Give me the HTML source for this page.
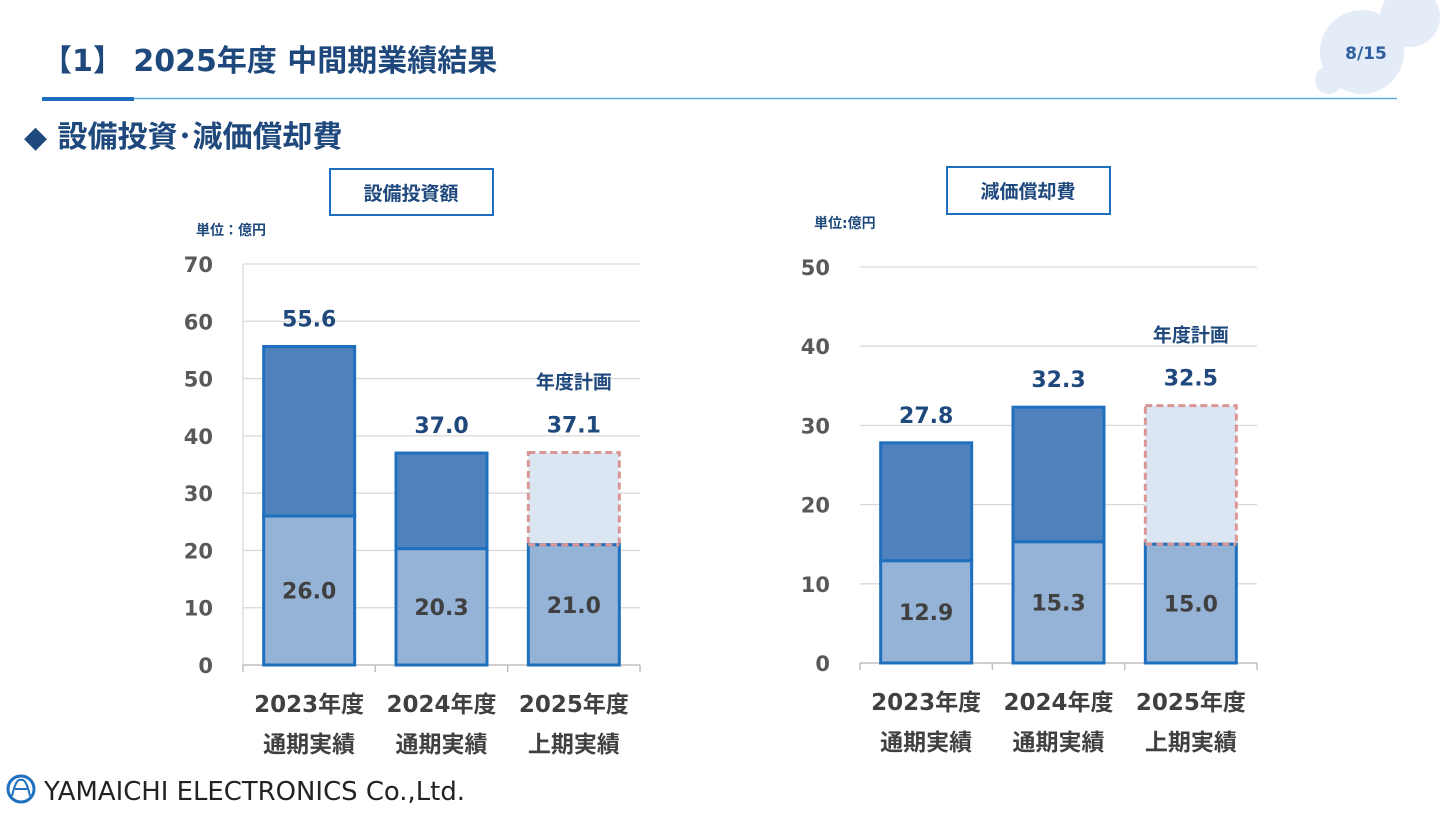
<!DOCTYPE html>
<html><head><meta charset="utf-8">
<style>
body{margin:0;width:1440px;height:810px;overflow:hidden;background:#fff;font-family:"DejaVu Sans","Noto Sans CJK JP",sans-serif;}
svg text{font-family:"DejaVu Sans","Noto Sans CJK JP",sans-serif;font-weight:bold;}
</style></head>
<body>
<svg width="1440" height="810" id="s">
<g>
<circle cx="1362" cy="52" r="42" fill="#e3ecf7"/>
<circle cx="1410" cy="17" r="30" fill="#e3ecf7"/>
<circle cx="1329" cy="80" r="14" fill="#e3ecf7"/>
</g>
<text x="1366" y="59" font-size="17" fill="#2f5f9e" text-anchor="middle">8/15</text>
<text x="42" y="71" font-size="30" fill="#1f497d">【1】 2025年度 中間期業績結果</text>
<line x1="42" y1="98.5" x2="1397" y2="98.5" stroke="#5fa8de" stroke-width="1.5"/>
<rect x="42" y="97" width="92" height="4" fill="#1f6fbf"/>
<text x="24" y="147" font-size="30" fill="#1f497d">◆ 設備投資･減価償却費</text>

<g>
<rect x="330" y="169" width="163" height="46" fill="#fff" stroke="#1f6fbf" stroke-width="2"/>
<text x="411" y="200" font-size="19" fill="#1f497d" text-anchor="middle">設備投資額</text></g>
<g>
<rect x="947" y="167" width="163" height="47" fill="#fff" stroke="#1f6fbf" stroke-width="2"/>
<text x="1028" y="198" font-size="19" fill="#1f497d" text-anchor="middle">減価償却費</text></g>
<text x="196" y="235" font-size="14" fill="#1f497d">単位：億円</text>
<text x="814" y="228" font-size="14" fill="#1f497d">単位:億円</text>

<g id="c1"></g><g id="c2"></g>

<g>
<circle cx="21" cy="789" r="13" fill="none" stroke="#1f6fbf" stroke-width="3"/>
<path d="M12 796 Q16 778 21 780 Q26 778 30 796 M15 789 H27" fill="none" stroke="#1f6fbf" stroke-width="2"/>
<text x="44" y="800" font-size="26" fill="#222" textLength="421" lengthAdjust="spacingAndGlyphs" style="font-weight:normal">YAMAICHI ELECTRONICS  Co.,Ltd.</text></g>
</svg>
<script>
const cats1=["2023年度|通期実績","2024年度|通期実績","2025年度|上期実績"];
const lower1=[26.0,20.3,21.0];
const total1=[55.6,37.0,37.1];
const ticks1=[0,10,20,30,40,50,60,70];
const cats2=["2023年度|通期実績","2024年度|通期実績","2025年度|上期実績"];
const lower2=[12.9,15.3,15.0];
const total2=[27.8,32.3,32.5];
const ticks2=[0,10,20,30,40,50];
const NS="http://www.w3.org/2000/svg";
function mk(p,t,a,txt){const e=document.createElementNS(NS,t);for(const k in a)e.setAttribute(k,a[k]);if(txt!=null)e.textContent=txt;p.appendChild(e);return e;}
function chart(id,x0,x1,yTop,yBot,max,cats,lower,total,ticks,name,showGrid){
 const g=document.getElementById(id);
 
 
 const y=v=>yBot-(yBot-yTop)*v/max;
 const bw=(x1-x0)/cats.length;
 ticks.forEach(t=>{
  if(t>0){const l=mk(g,'line',{x1:x0,x2:x1,y1:y(t),y2:y(t),stroke:'#d9d9d9','stroke-width':1.3});
  
  }
  const tx=mk(g,'text',{x:x0-30,y:y(t)+8,'font-size':21,fill:'#595959','text-anchor':'end'},t);
  
  
 });
 if(showGrid){const l=mk(g,'line',{x1:x0,x2:x0,y1:yTop,y2:yBot,stroke:'#d9d9d9','stroke-width':1.3});
 
 }
 const ax=mk(g,'line',{x1:x0,x2:x1,y1:yBot,y2:yBot,stroke:'#bfbfbf','stroke-width':1.5});
 
 
 for(let i=0;i<=cats.length;i++){const tk=mk(g,'line',{x1:x0+i*bw,x2:x0+i*bw,y1:yBot,y2:yBot+7,stroke:'#bfbfbf','stroke-width':1.5});
 
 }
 cats.forEach((c,i)=>{
  const cx=x0+bw*(i+0.5), w=91, bx=cx-w/2;
  const plan=i==cats.length-1;
  const up=mk(g,'rect',{x:bx,y:y(total[i]),width:w,height:y(lower[i])-y(total[i]),fill:plan?'#dce6f2':'#4f81bd',stroke:plan?'#d99694':'#1f6fbf','stroke-width':3,'stroke-dasharray':plan?'7 4':'none'});
  
  
  const lo=mk(g,'rect',{x:bx,y:y(lower[i]),width:w,height:yBot-y(lower[i]),fill:'#95b3d7',stroke:'#1f6fbf','stroke-width':3});
  
  
  if(plan){const d=mk(g,'line',{x1:bx,x2:bx+w,y1:y(lower[i]),y2:y(lower[i]),stroke:'#d99694','stroke-width':3,'stroke-dasharray':'7 4'});
  
  }
  const lv=mk(g,'text',{x:cx,y:(y(lower[i])+yBot)/2+8,'font-size':22,fill:'#404040','text-anchor':'middle'},lower[i].toFixed(1));
  
  
  const tv=mk(g,'text',{x:cx,y:y(total[i])-20,'font-size':22,fill:'#1f497d','text-anchor':'middle'},total[i].toFixed(1));
  
  
  if(plan){const pl=mk(g,'text',{x:cx,y:y(total[i])-64,'font-size':19,fill:'#1f497d','text-anchor':'middle'},'年度計画');
  
  }
  const [a,b]=c.split('|');
  const l1=mk(g,'text',{x:cx,y:yBot+47,'font-size':23,fill:'#404040','text-anchor':'middle'},a);
  
  
  const l2=mk(g,'text',{x:cx,y:yBot+87,'font-size':23,fill:'#404040','text-anchor':'middle'},b);
  
  
 });
}
chart('c1',243,640,264,665,70,cats1,lower1,total1,ticks1,'capex-chart',true);
chart('c2',860,1257,267,663,50,cats2,lower2,total2,ticks2,'depreciation-chart',false);
</script>
</body></html>
